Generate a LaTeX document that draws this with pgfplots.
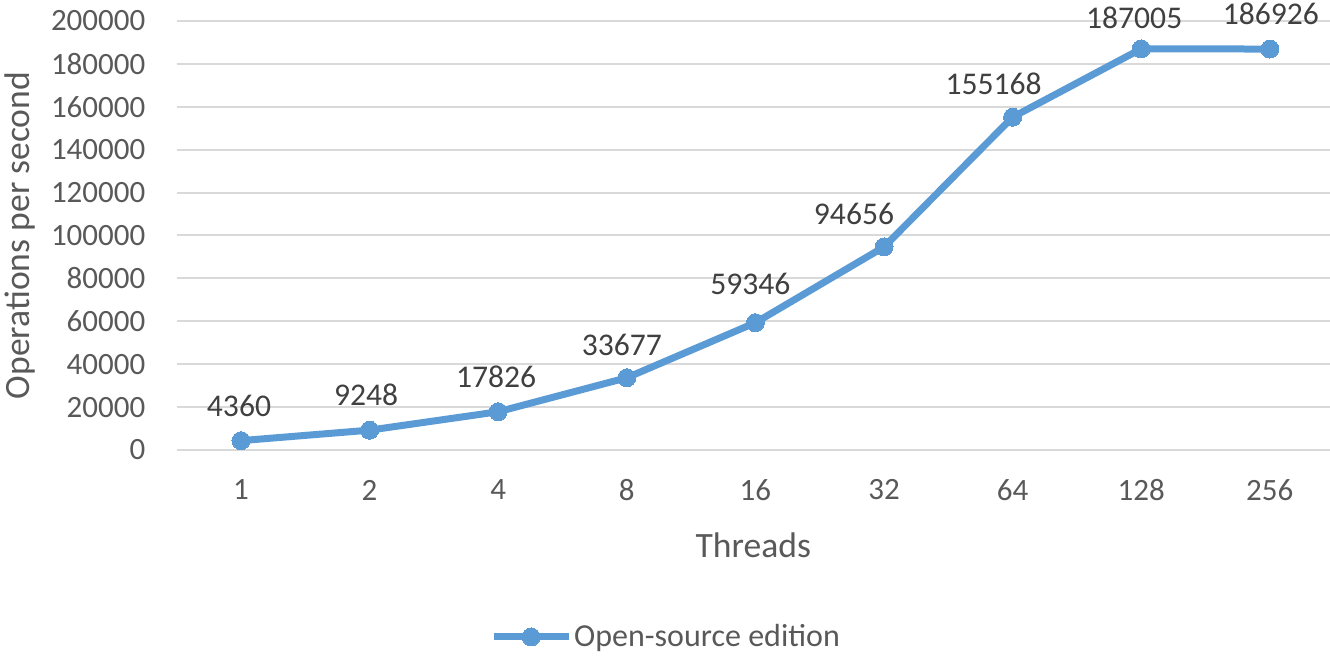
\documentclass[border=0pt]{standalone}
\usepackage{fontspec}
\setmainfont{Carlito}
\usepackage{pgfplots}
\usepackage{pgfplotstable}
\pgfplotsset{compat=1.18}
\definecolor{lineblue}{HTML}{5B9BD5}
\definecolor{txtgray}{HTML}{595959}
\definecolor{lblgray}{HTML}{404040}
\definecolor{gridgray}{HTML}{D9D9D9}
\pgfplotstableread{
x y dx dy
0 4360 -1 17.5
1 9248 -1.75 17.5
2 17826 -1 17.5
3 33677 -2.5 16.5
4 59346 -2.5 19.5
5 94656 -15 16.5
6 155168 -9.5 16.5
7 187005 -3.5 15.75
8 186926 0.5 17.5
}\datatable
\begin{document}
\begin{tikzpicture}
\path[use as bounding box] (0,0) rectangle (665pt,328.5pt);
\begin{axis}[
  at={(88.35pt,103.5pt)}, anchor=south west,
  scale only axis, width=576.65pt, height=214.5pt,
  xmin=-0.5, xmax=8.468, ymin=0, ymax=200000,
  xtick=data, xticklabels={1,2,4,8,16,32,64,128,256},
  ytick={0,20000,...,200000},
  scaled y ticks=false,
  /pgf/number format/.cd, fixed, 1000 sep={}, assume math mode=true, /pgfplots/.cd,
  axis line style={draw=none},
  major tick length=0pt,
  ymajorgrids, grid style={gridgray, line width=1pt},
  tick label style={font=\fontsize{15.5}{18}\selectfont, text=txtgray, inner sep=0pt},
  yticklabel style={anchor=east, xshift=-15.5pt},
  xticklabel style={anchor=center, yshift=-20pt},
  xlabel={Threads}, ylabel={Operations per second},
  label style={font=\fontsize{17.8}{20}\selectfont, text=txtgray},
  xlabel style={at={(axis description cs:0.5,-0.2214)}, anchor=center},
  ylabel style={at={(axis description cs:-0.1359,0.5)}, anchor=center},
  legend style={at={(axis description cs:0.4243,-0.4359)}, anchor=center, draw=none, fill=none,
    font=\fontsize{16}{19}\selectfont, text=txtgray, inner sep=0pt,
    nodes={inner sep=1pt, anchor=west}},
  legend image code/.code={\draw[#1, mark repeat=2, mark phase=2] plot coordinates {(0pt,0pt) (18.75pt,0pt) (37.5pt,0pt)};},
  clip=false,
]
\addplot[lineblue, line width=3.5pt, mark=*, mark size=4.5pt,
  mark options={solid, fill=lineblue, draw=lineblue, line width=0pt},
  visualization depends on={\thisrow{dx} \as \dxv},
  visualization depends on={\thisrow{dy} \as \dyv},
  nodes near coords,
  every node near coord/.append style={anchor=center, xshift=\dxv pt, yshift=\dyv pt,
    font=\fontsize{15.8}{18}\selectfont, text=lblgray},
] table[x=x, y=y] {\datatable};
\addlegendentry{Open-source edition}
\end{axis}
\end{tikzpicture}
\end{document}
